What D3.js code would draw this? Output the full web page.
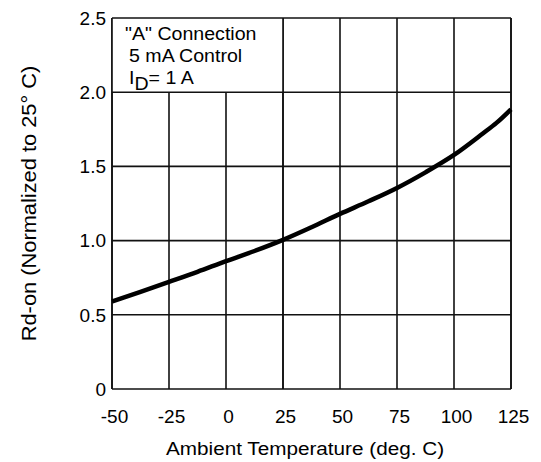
<!DOCTYPE html>
<html>
<head>
<meta charset="utf-8">
<script src="https://cdn.jsdelivr.net/npm/d3@7"></script>
<style>
  html, body { margin: 0; padding: 0; background: #fff; }
  svg { display: block; }
  text { font-family: "Liberation Sans", Arial, Helvetica, sans-serif; fill: #000; }
</style>
</head>
<body>
<svg id="chart" width="541" height="462"></svg>
<script>
// ---- data ----
const temperatures = [-50, -37.5, -25, -12.5, 0, 12.5, 25, 37.5, 50, 62.5, 75, 87.5, 100, 112.5, 118.75, 125];
const rdOn = [0.59, 0.655, 0.722, 0.79, 0.862, 0.93, 1.005, 1.09, 1.18, 1.265, 1.355, 1.46, 1.577, 1.72, 1.795, 1.885];
const xTicks = [-50, -25, 0, 25, 50, 75, 100, 125];
const yTicks = [0, 0.5, 1.0, 1.5, 2.0, 2.5];
const yTickLabels = ["0", "0.5", "1.0", "1.5", "2.0", "2.5"];
const annotationLines = ["\"A\" Connection", "5 mA Control"];
const xTitle = "Ambient Temperature (deg. C)";
const yTitle = "Rd-on (Normalized to 25\u00B0 C)";

// ---- layout ----
const svg = d3.select("#chart");
const x = d3.scaleLinear().domain([-50, 125]).range([112, 511]);
const y = d3.scaleLinear().domain([0, 2.5]).range([389, 18]);
const gridColor = "#111";
const gridWidth = 1.6;

// vertical grid
svg.append("g").selectAll("line").data(xTicks).join("line")
  .attr("x1", d => x(d)).attr("x2", d => x(d))
  .attr("y1", y(0)).attr("y2", y(2.5))
  .attr("stroke", gridColor).attr("stroke-width", gridWidth);

// white annotation box covering grid
svg.append("rect")
  .attr("x", x(-50)).attr("y", y(2.5))
  .attr("width", x(25) - x(-50)).attr("height", y(2.0) - y(2.5))
  .attr("fill", "#fff");

// horizontal grid
svg.append("g").selectAll("line").data(yTicks).join("line")
  .attr("x1", x(-50)).attr("x2", x(125))
  .attr("y1", d => y(d)).attr("y2", d => y(d))
  .attr("stroke", gridColor).attr("stroke-width", gridWidth);

// border verticals redraw
svg.append("g").selectAll("line").data([-50, 25, 125]).join("line")
  .attr("x1", d => x(d)).attr("x2", d => x(d))
  .attr("y1", y(0)).attr("y2", y(2.5))
  .attr("stroke", gridColor).attr("stroke-width", gridWidth);

// curve
const line = d3.line()
  .x((d, i) => x(temperatures[i]))
  .y(d => y(d))
  .curve(d3.curveMonotoneX);
svg.append("path").datum(rdOn)
  .attr("d", line)
  .attr("fill", "none").attr("stroke", "#000")
  .attr("stroke-width", 4.5).attr("stroke-linecap", "butt");

// y tick labels
svg.append("g").selectAll("text").data(yTicks).join("text")
  .attr("x", 106).attr("y", d => y(d)).attr("dy", "0.36em")
  .attr("text-anchor", "end").attr("font-size", 19)
  .text((d, i) => yTickLabels[i]);

// x tick labels
svg.append("g").selectAll("text").data(xTicks).join("text")
  .attr("x", d => x(d) + 2.5).attr("y", 423)
  .attr("text-anchor", "middle").attr("font-size", 19)
  .text(d => d);

// axis titles
svg.append("text")
  .attr("transform", `translate(305,455) scale(1.12,1)`)
  .attr("text-anchor", "middle").attr("font-size", 18.5)
  .text(xTitle);
svg.append("text")
  .attr("transform", `translate(36,${(y(0) + y(2.5)) / 2}) rotate(-90) scale(1.12,1)`)
  .attr("text-anchor", "middle").attr("font-size", 19.5)
  .text(yTitle);

// annotation
const ann = svg.append("g");
ann.append("text").attr("transform", "translate(125,40) scale(1.12,1)").attr("font-size", 17.5).text(annotationLines[0]);
ann.append("text").attr("transform", "translate(129,62) scale(1.12,1)").attr("font-size", 17.5).text(annotationLines[1]);
const id = ann.append("text").attr("transform", "translate(129,84) scale(1.12,1)").attr("font-size", 17.5);
id.append("tspan").text("I");
id.append("tspan").attr("dy", 6).text("D");
id.append("tspan").attr("dy", -6).text("= 1 A");
</script>
</body>
</html>
